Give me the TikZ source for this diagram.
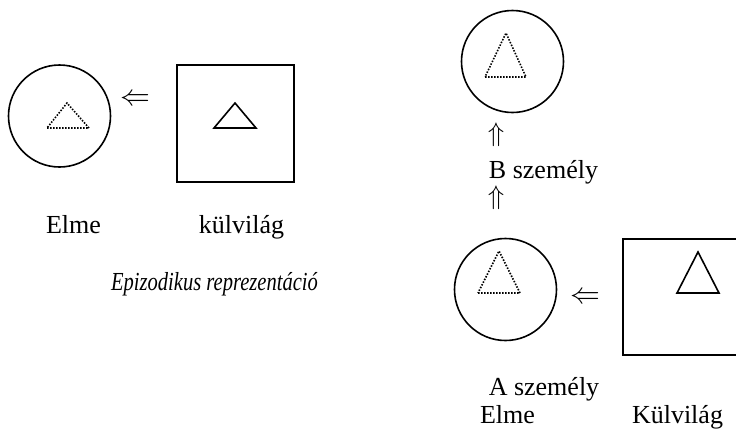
\documentclass[tikz,border=0pt]{standalone}
\usepackage{fontspec}
\usepackage{graphicx}
\setmainfont{Liberation Serif}
\tikzset{
  mind/.style={draw, circle, line width=1.6pt, minimum size=102pt, inner sep=0pt},
  world/.style={draw, line width=1.8pt},
  seen/.style={line width=1.6pt, dash pattern=on 1.5pt off 1.5pt},
  real/.style={line width=1.6pt, line join=miter},
  lbl/.style={anchor=base, inner sep=0pt, font=\fontsize{26}{30}\selectfont},
  arr/.style={anchor=center, inner sep=0pt, font=\fontsize{24.88}{30}\selectfont}
}
\newcommand{\leftdbl}{\scalebox{1.2}{$\Leftarrow$}}
\newcommand{\updbl}{\scalebox{1.08}{$\Uparrow$}}
\begin{document}
\begin{tikzpicture}[x=1pt,y=-1pt]
\clip (0,0) rectangle (736,432);
\useasboundingbox (0,0) rectangle (736,432);
% left: episodic representation
\node[mind] (m1) at (59.5,116) {};
\draw[world] (177,65) rectangle (294,182);
\draw[seen] (47,128) -- (89,128) -- (67,103) -- cycle;
\draw[real] (214,128) -- (256,128) -- (235,103) -- cycle;
\node[arr] (a1) at (135.5,100) {\leftdbl};
\node[lbl] (t1) at (73.5,233) {Elme};
\node[lbl] (t2) at (241.5,233) {külvilág};
\node[lbl] (t3) at (214.5,290) {\scalebox{0.79}[1]{\itshape Epizodikus reprezentáció}};
% right: two persons
\node[mind] (m2) at (512.5,61.5) {};
\draw[seen] (485,77) -- (526,77) -- (506,33) -- cycle;
\node[arr] (u1) at (496,135) {\updbl};
\node[lbl] (t4) at (543.5,178) {B személy};
\node[arr] (u2) at (496,198) {\updbl};
\node[mind] (m3) at (505.5,289.5) {};
\draw[seen] (478,293) -- (520,293) -- (499,251) -- cycle;
\node[arr] (a2) at (585,298) {\leftdbl};
\draw[world] (623,239) rectangle (748,355);
\draw[real] (677,293) -- (719,293) -- (698,252) -- cycle;
\node[lbl] (t5) at (544,395) {A személy};
\node[lbl] (t6) at (507.5,423) {Elme};
\node[lbl] (t7) at (677.5,423) {Külvilág};
\end{tikzpicture}
\end{document}
